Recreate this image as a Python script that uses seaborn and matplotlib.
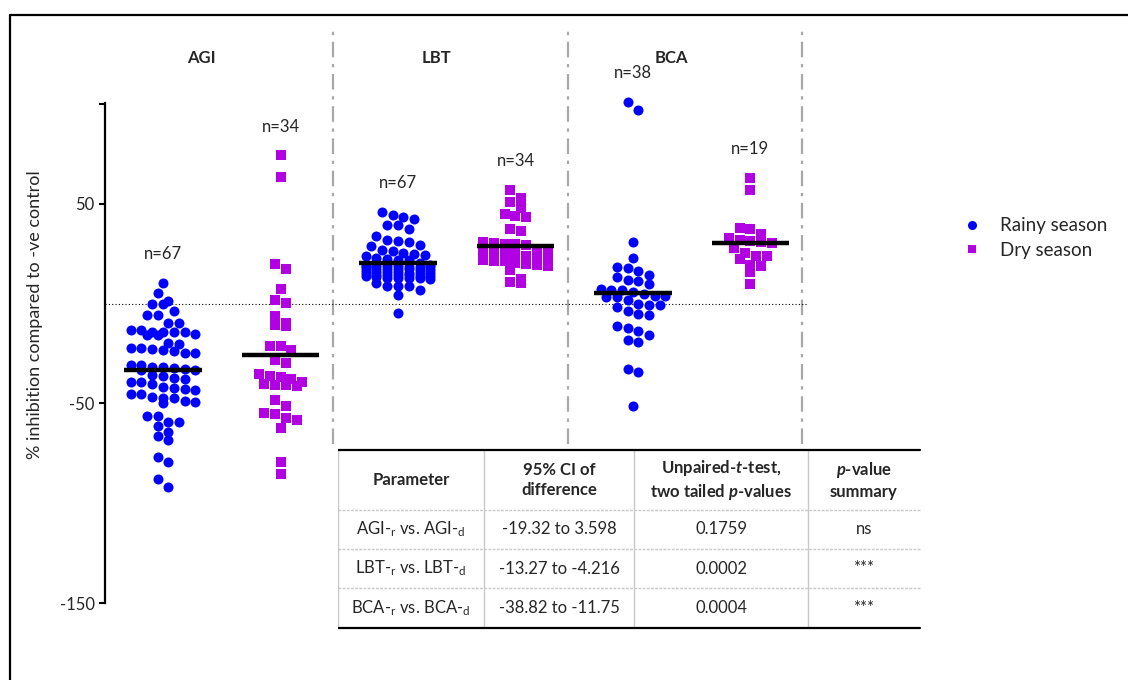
import numpy as np
import pandas as pd
import matplotlib
matplotlib.use("Agg")
import matplotlib.pyplot as plt
from matplotlib.lines import Line2D
import seaborn as sns

# ---------------------------------------------------------------- data
categories = ["AGI", "LBT", "BCA"]
seasons = ["Rainy season", "Dry season"]

agi_rainy = [10.5, 5.2, 1.2, -0.2, -0.2, -3.5, -5.5, -5.5, -9.8, -9.7,
             -14.0, -14.3, -13.3, -13.3, -15.7, -15.7, -15.3, -14.3, -14.0,
             -19.7, -20.0,
             -22.3, -22.7, -23.7, -25.0, -25.0, -23.0, -22.3,
             -32.7, -31.0, -31.7, -32.2, -31.7, -30.7, -33.3, -33.5,
             -39.5, -41.7, -36.3, -37.7, -37.3, -36.0, -39.3, -40.2,
             -43.0, -43.5, -42.5, -45.5, -45.5,
             -47.2, -49.0, -49.7, -49.2, -47.5, -47.0,
             -56.3, -56.3, -59.5, -59.3, -61.3, -64.2, -66.5, -68.2,
             -77.0, -79.5, -87.7, -92.0]
agi_dry = [74.2, 63.2, 20.0, 17.2, 7.2, 2.0, 0.2, -6.0, -10.8, -11.3, -9.7,
           -21.3, -21.3, -23.0, -28.5, -30.0, -35.2, -36.7, -36.3, -37.7,
           -40.5, -40.8, -41.3, -40.8, -39.5, -48.3, -51.3, -55.0, -55.5,
           -57.2, -58.3, -62.2, -79.3, -85.3]
lbt_rainy = [45.8, 43.2, 44.5, 42.5, 39.5, 39.5, 37.5, 33.7, 31.7, 30.8,
             29.5, 31.2, 29.0, 27.0, 26.2, 25.3, 24.8, 23.7, 24.5, 22.3,
             21.7, 21.7, 22.7, 20.3, 19.5,
             18.8, 18.5, 18.3, 18.9, 18.6, 18.2, 18.7, 18.4,
             17.2, 16.9, 17.5, 17.0, 16.7, 17.3, 17.1,
             15.8, 15.4, 15.6, 15.2, 15.9, 15.5, 15.3,
             14.2, 13.8, 14.5, 13.9, 14.1, 14.4, 13.6,
             13.0, 12.6, 12.9, 12.4, 13.2, 12.7,
             10.3, 9.0, 7.0, 4.5, 8.7, 9.0, -4.7]
lbt_dry = [56.7, 52.7, 50.7, 48.0, 43.7, 43.2, 44.7, 36.2, 37.2,
           30.3, 29.7, 29.3, 29.7, 31.0, 26.7, 26.0, 25.3, 26.0, 26.0, 27.0,
           22.0, 23.3, 21.2, 19.8, 18.7, 16.7, 19.5, 20.3, 21.2,
           12.3, 10.3, 10.8, 24.0, 22.5]
bca_rainy = [100.8, 96.8, 31.0, 23.0, 18.0, 18.2, 16.3, 14.3, 12.0, 11.3,
             13.2, 9.8, 7.0, 5.8, 6.7, 7.5, 4.0, 3.2, 3.2, 3.7, 4.8,
             -0.8, 1.8, 0.0, -0.7, -1.8, -3.8, -5.8, -5.3,
             -12.3, -15.5, -13.5, -11.0, -19.0, -18.0, -32.7, -34.3, -51.3]
bca_dry = [63.0, 56.7, 38.0, 37.2, 34.7, 32.7, 31.5, 30.3, 30.7, 31.8,
           27.8, 25.2, 23.7, 22.3, 23.7, 18.7, 19.2, 15.7, 9.7]

# group means (horizontal bars), same order as the columns
group_means = [-33.5, -25.8, 20.3, 28.8, 5.1, 30.2]

yticks = [-150, -50, 50, 100]
ytick_labels = ["-150", "-50", "50", ""]

table_header = ["Parameter", "95% CI of\ndifference",
                "Unpaired-$t$-test,\ntwo tailed $p$-values",
                "$p$-value\nsummary"]
table_params = [r"AGI-$_{\mathregular{r}}$ vs. AGI-$_{\mathregular{d}}$",
                r"LBT-$_{\mathregular{r}}$ vs. LBT-$_{\mathregular{d}}$",
                r"BCA-$_{\mathregular{r}}$ vs. BCA-$_{\mathregular{d}}$"]
table_ci = ["-19.32 to 3.598", "-13.27 to -4.216", "-38.82 to -11.75"]
table_p = ["0.1759", "0.0002", "0.0004"]
table_summary = ["ns", "***", "***"]

# ---------------------------------------------------------------- style
sns.set_theme(style="white")
plt.rcParams["font.family"] = ["Lato", "DejaVu Sans"]
plt.rcParams["mathtext.fontset"] = "custom"
plt.rcParams["mathtext.rm"] = "Lato"
plt.rcParams["mathtext.it"] = "Lato:italic:bold"
plt.rcParams["mathtext.bf"] = "Lato:bold"

RAINY = "#0000FF"
DRY = "#B100E1"
W, H = 1128, 680


def column_offsets(values, bin_h=4.5, max_row=7, dx=0.092):
    """GraphPad-like column scatter: points of similar value share a row."""
    vals = np.asarray(values, dtype=float)
    order = np.argsort(-vals, kind="stable")
    rows, cur = [], []
    for idx in order:
        if cur and (vals[cur[0]] - vals[idx] > bin_h or len(cur) >= max_row):
            rows.append(cur)
            cur = []
        cur.append(idx)
    rows.append(cur)
    off = np.zeros(len(vals))
    for row in rows:
        k = len(row)
        for j, idx in enumerate(row):
            off[idx] = (j - (k - 1) / 2) * dx
    return off


series = [("AGI", seasons[0], agi_rainy), ("AGI", seasons[1], agi_dry),
          ("LBT", seasons[0], lbt_rainy), ("LBT", seasons[1], lbt_dry),
          ("BCA", seasons[0], bca_rainy), ("BCA", seasons[1], bca_dry)]

frames = []
for pos, (grp, season, vals) in enumerate(series):
    frames.append(pd.DataFrame({
        "group": grp, "season": season, "value": vals,
        "x": pos + column_offsets(vals), "pos": pos}))
df = pd.concat(frames, ignore_index=True)

# ---------------------------------------------------------------- figure
fig = plt.figure(figsize=(W / 100, H / 100), dpi=100)
ax = fig.add_axes([105 / W, 1 - 603 / H, 703 / W, 500 / H])

sns.scatterplot(data=df[df.season == seasons[0]], x="x", y="value",
                color=RAINY, marker="o", s=52, linewidth=0, ax=ax,
                legend=False, zorder=3)
sns.scatterplot(data=df[df.season == seasons[1]], x="x", y="value",
                color=DRY, marker="s", s=42, linewidth=0, ax=ax,
                legend=False, zorder=3)
for coll in ax.collections:
    coll.set_clip_on(False)

positions = np.arange(len(series))
ax.hlines(group_means, positions - 0.33, positions + 0.33, colors="black",
          lw=3.2, zorder=4)

ax.axhline(0, color="black", lw=0.8, ls=(0, (1, 2)), zorder=1)

# separators between the three assays
ax.vlines([1.45, 3.45, 5.44], -70.5, 137, colors="#a8a8a8", lw=1.6,
          linestyles=[(0, (7, 3, 1.5, 3))], clip_on=False, zorder=0)

# n labels above each column
for pos, (grp, season, vals) in enumerate(series):
    ax.text(pos, max(vals) + 14.5, f"n={len(vals)}", ha="center",
            va="center", fontsize=12, clip_on=False)

# assay names
for i, name in enumerate(categories):
    ax.text(2 * i + 0.33, 123, name, ha="center", va="center",
            fontsize=12, fontweight="bold", clip_on=False)

ax.set_xlim(-0.494, 5.49)
ax.set_ylim(-150, 100.5)
ax.set_xticks([])
ax.set_yticks(yticks)
ax.set_yticklabels(ytick_labels, fontsize=12)
ax.tick_params(axis="y", direction="out", length=4.5, width=1.5,
               color="black", pad=3, left=True)
for side in ["top", "right", "bottom"]:
    ax.spines[side].set_visible(False)
ax.spines["left"].set_color("black")
ax.spines["left"].set_linewidth(1.6)
ax.set_xlabel("")
ax.set_ylabel("% inhibition compared to -ve control", fontsize=13)
ax.yaxis.set_label_coords(-(105 - 43) / 703, (603 - 315) / 500)
ax.patch.set_alpha(0)

# legend
handles = [Line2D([], [], marker="o", ls="none", color=RAINY, markersize=6.5,
                  markeredgewidth=0),
           Line2D([], [], marker="s", ls="none", color=DRY, markersize=5.5,
                  markeredgewidth=0)]
fig.legend(handles, seasons, loc="center left",
           bbox_to_anchor=(946 / W, 1 - 238 / H), frameon=False,
           fontsize=13.5, handlelength=1.0, handletextpad=1.0,
           labelspacing=0.4)

# ---------------------------------------------------------------- table
tax = fig.add_axes([338 / W, 1 - 630 / H, 584 / W, 182 / H])
tax.set_xlim(338, 922)
tax.set_ylim(630, 448)
tax.axis("off")
col_edges = [338, 484, 634, 808, 920]
row_edges = [450, 510, 549, 588, 628]
grey = "#c8c8c8"
for x in col_edges[:-1]:
    tax.plot([x, x], [450, 628], color=grey, lw=1)
for y in row_edges[1:-1]:
    tax.plot([338, 920], [y, y], color=grey, lw=1, ls=(0, (2, 1)))
tax.plot([338, 920], [450, 450], color="black", lw=1.6)
tax.plot([338, 920], [628, 628], color="black", lw=1.6)

centers = [(a + b) / 2 for a, b in zip(col_edges[:-1], col_edges[1:])]
for cx, txt in zip(centers, table_header):
    tax.text(cx, 480, txt, ha="center", va="center", fontsize=12,
             fontweight="bold", linespacing=1.3)
for r in range(3):
    cy = (row_edges[r + 1] + row_edges[r + 2]) / 2
    for cx, txt in zip(centers, [table_params[r], table_ci[r], table_p[r],
                                 table_summary[r]]):
        tax.text(cx, cy, txt, ha="center", va="center", fontsize=12)

# outer frame of the panel
fig.add_artist(Line2D([10 / W, 10 / W], [0, 1 - 15 / H], color="black",
                      lw=1.6, transform=fig.transFigure))
fig.add_artist(Line2D([10 / W, 1], [1 - 15 / H, 1 - 15 / H], color="black",
                      lw=1.6, transform=fig.transFigure))

fig.savefig("out.png", dpi=100)
